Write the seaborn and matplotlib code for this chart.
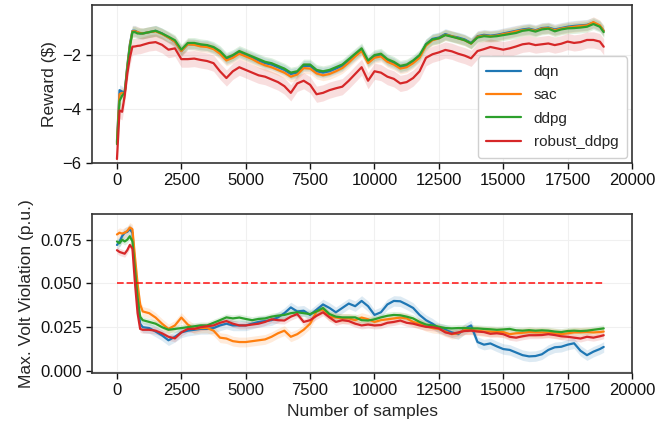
import numpy as np
import pandas as pd
import matplotlib
matplotlib.use("Agg")
import matplotlib.pyplot as plt
import seaborn as sns

# ---------------- data ----------------
samples = [0, 100, 200, 300, 400, 500, 600, 700, 800, 900, 1000] + list(range(1250, 18751, 250)) + [18900]
algos = ["dqn", "sac", "ddpg", "robust_ddpg"]

reward_dqn = [
    -5.2, -3.3, -3.35, -3.4, -2.4, -1.6, -1.1, -1.1, -1.15, -1.2, -1.2,
    -1.15, -1.1, -1.2, -1.35, -1.5, -1.85, -1.6, -1.6, -1.65, -1.65, -1.75,
    -1.9, -2.15, -2.05, -1.9, -2.0, -2.1, -2.2, -2.3, -2.35, -2.45, -2.55,
    -2.7, -2.65, -2.4, -2.4, -2.6, -2.65, -2.6, -2.5, -2.4, -2.2, -2.0,
    -1.8, -2.25, -2.05, -2.0, -2.2, -2.3, -2.45, -2.4, -2.25, -2.05, -1.6,
    -1.4, -1.35, -1.22, -1.3, -1.35, -1.42, -1.55, -1.3, -1.25, -1.28, -1.25,
    -1.2, -1.15, -1.1, -1.05, -1.02, -1.08, -1.0, -0.98, -1.05, -1.0, -0.95,
    -0.92, -0.9, -0.88, -0.8, -0.92, -1.1,
]
reward_sac = [
    -5.25, -3.45, -3.4, -3.45, -2.45, -1.65, -1.12, -1.12, -1.15, -1.18, -1.2,
    -1.15, -1.12, -1.22, -1.35, -1.5, -1.85, -1.6, -1.62, -1.68, -1.7, -1.78,
    -1.95, -2.2, -2.1, -1.95, -2.05, -2.15, -2.28, -2.38, -2.45, -2.55, -2.65,
    -2.8, -2.72, -2.48, -2.5, -2.68, -2.75, -2.7, -2.6, -2.48, -2.28, -2.05,
    -1.85, -2.3, -2.1, -2.05, -2.25, -2.35, -2.5, -2.45, -2.3, -2.1, -1.65,
    -1.45, -1.38, -1.25, -1.3, -1.38, -1.45, -1.58, -1.32, -1.28, -1.3, -1.28,
    -1.22, -1.18, -1.12, -1.08, -1.05, -1.1, -1.02, -1.0, -1.08, -1.02, -0.98,
    -0.95, -0.92, -0.9, -0.78, -0.9, -1.1,
]
reward_ddpg = [
    -5.3, -3.7, -3.5, -3.4, -2.5, -1.7, -1.15, -1.15, -1.2, -1.2, -1.2,
    -1.15, -1.1, -1.2, -1.32, -1.45, -1.8, -1.55, -1.55, -1.6, -1.63, -1.7,
    -1.85, -2.1, -2.0, -1.85, -1.95, -2.05, -2.15, -2.25, -2.3, -2.4, -2.5,
    -2.65, -2.6, -2.35, -2.35, -2.55, -2.6, -2.55, -2.45, -2.35, -2.15, -1.95,
    -1.75, -2.2, -2.0, -1.95, -2.15, -2.25, -2.4, -2.35, -2.2, -2.0, -1.6,
    -1.42, -1.38, -1.26, -1.32, -1.38, -1.45, -1.57, -1.35, -1.3, -1.32, -1.3,
    -1.26, -1.22, -1.18, -1.1, -1.07, -1.13, -1.05, -1.02, -1.12, -1.05, -1.01,
    -1.0, -0.98, -0.95, -0.85, -0.95, -1.15,
]
reward_robust = [
    -5.85, -4.05, -4.1, -3.5, -2.7, -2.1, -1.69, -1.68, -1.66, -1.65, -1.62,
    -1.55, -1.52, -1.62, -1.8, -1.75, -2.15, -2.15, -2.13, -2.18, -2.22, -2.3,
    -2.6, -2.85, -2.6, -2.45, -2.55, -2.65, -2.75, -2.8, -2.9, -3.0, -3.15,
    -3.4, -3.05, -2.95, -3.1, -3.45, -3.4, -3.3, -3.23, -3.17, -2.95, -2.7,
    -2.45, -2.95, -2.6, -2.65, -2.8, -2.88, -3.05, -3.0, -2.85, -2.6, -2.1,
    -1.97, -1.9, -1.81, -1.86, -1.95, -2.02, -2.12, -1.85, -1.78, -1.7, -1.75,
    -1.8, -1.75, -1.68, -1.6, -1.57, -1.63, -1.6, -1.57, -1.63, -1.58, -1.5,
    -1.55, -1.52, -1.44, -1.44, -1.5, -1.69,
]
reward_band = [0.2, 0.2, 0.2, 0.3]

volt_dqn = [
    0.072, 0.074, 0.077, 0.079, 0.0795, 0.081, 0.079, 0.06, 0.04, 0.027, 0.025,
    0.0245, 0.0225, 0.0203, 0.0175, 0.0195, 0.022, 0.023, 0.0235, 0.024, 0.024, 0.0245,
    0.026, 0.027, 0.026, 0.026, 0.026, 0.027, 0.028, 0.0285, 0.029, 0.0306, 0.033,
    0.0363, 0.034, 0.0344, 0.032, 0.035, 0.038, 0.036, 0.0335, 0.036, 0.0385, 0.037,
    0.040, 0.037, 0.032, 0.0335, 0.038, 0.040, 0.0398, 0.038, 0.036, 0.032, 0.029,
    0.027, 0.0245, 0.0235, 0.022, 0.021, 0.024, 0.026, 0.0165, 0.015, 0.0157, 0.014,
    0.0125, 0.012, 0.0105, 0.009, 0.0083, 0.0085, 0.0095, 0.012, 0.0135, 0.0138, 0.015,
    0.0158, 0.0115, 0.009, 0.011, 0.0125, 0.0137,
]
volt_sac = [
    0.078, 0.079, 0.0785, 0.079, 0.080, 0.082, 0.081, 0.065, 0.05, 0.038, 0.034,
    0.033, 0.0305, 0.027, 0.024, 0.026, 0.0305, 0.0265, 0.024, 0.0245, 0.0245, 0.023,
    0.019, 0.0185, 0.017, 0.0165, 0.0165, 0.017, 0.0175, 0.018, 0.0195, 0.0215, 0.023,
    0.0195, 0.021, 0.0235, 0.027, 0.034, 0.035, 0.031, 0.0305, 0.030, 0.030, 0.029,
    0.0305, 0.0295, 0.028, 0.029, 0.0295, 0.030, 0.0305, 0.030, 0.028, 0.027, 0.0255,
    0.0245, 0.024, 0.0225, 0.021, 0.0215, 0.0235, 0.0235, 0.023, 0.0225, 0.0225, 0.0222,
    0.0222, 0.021, 0.0215, 0.0218, 0.0222, 0.022, 0.022, 0.0218, 0.0215, 0.021, 0.0215,
    0.022, 0.022, 0.0222, 0.022, 0.0222, 0.0225,
]
volt_ddpg = [
    0.074, 0.073, 0.075, 0.074, 0.075, 0.077, 0.074, 0.058, 0.042, 0.031, 0.029,
    0.028, 0.027, 0.025, 0.0235, 0.024, 0.0245, 0.025, 0.0255, 0.026, 0.026, 0.0275,
    0.029, 0.0306, 0.030, 0.0305, 0.0297, 0.029, 0.0297, 0.030, 0.031, 0.0316, 0.032,
    0.033, 0.0335, 0.033, 0.0325, 0.034, 0.036, 0.0325, 0.031, 0.0306, 0.0306, 0.0306,
    0.029, 0.0288, 0.0295, 0.0306, 0.0315, 0.032, 0.0318, 0.031, 0.030, 0.028, 0.0265,
    0.026, 0.0252, 0.0245, 0.0243, 0.0245, 0.0245, 0.0243, 0.0243, 0.024, 0.0238, 0.0235,
    0.0237, 0.024, 0.0232, 0.023, 0.0233, 0.023, 0.0232, 0.023, 0.0225, 0.0222, 0.0228,
    0.023, 0.0228, 0.023, 0.0235, 0.024, 0.0243,
]
volt_robust = [
    0.069, 0.068, 0.0675, 0.067, 0.069, 0.072, 0.07, 0.05, 0.033, 0.024, 0.0235,
    0.0235, 0.023, 0.0215, 0.0195, 0.0186, 0.022, 0.024, 0.024, 0.025, 0.0255, 0.026,
    0.0275, 0.0285, 0.027, 0.026, 0.026, 0.0265, 0.027, 0.028, 0.0295, 0.029, 0.0288,
    0.031, 0.0325, 0.028, 0.029, 0.0315, 0.0335, 0.0306, 0.028, 0.029, 0.0285, 0.027,
    0.026, 0.0265, 0.026, 0.0262, 0.0275, 0.028, 0.0288, 0.0275, 0.027, 0.026, 0.0252,
    0.025, 0.0243, 0.022, 0.0212, 0.022, 0.0228, 0.023, 0.0225, 0.0222, 0.0212, 0.0215,
    0.021, 0.0195, 0.019, 0.0198, 0.0204, 0.0204, 0.0205, 0.021, 0.0205, 0.0198, 0.0195,
    0.019, 0.0185, 0.0195, 0.019, 0.0198, 0.0204,
]
volt_band = [0.003, 0.0028, 0.002, 0.002]
volt_limit = 0.05

# ---------------- plotting ----------------
sns.set_style("ticks")
plt.rcParams["font.family"] = ["Liberation Sans", "DejaVu Sans"]
plt.rcParams["axes.unicode_minus"] = True

colors = sns.color_palette("tab10", 4)
fig = plt.figure(figsize=(6.57, 4.28), dpi=100)
ax1 = fig.add_axes([0.140, 0.619, 0.822, 0.369])
ax2 = fig.add_axes([0.140, 0.1285, 0.822, 0.3715])

reward_series = [reward_dqn, reward_sac, reward_ddpg, reward_robust]
volt_series = [volt_dqn, volt_sac, volt_ddpg, volt_robust]

for ax, series, bands in [(ax1, reward_series, reward_band), (ax2, volt_series, volt_band)]:
    for name, vals, b, c in zip(algos, series, bands, colors):
        df = pd.DataFrame({"samples": samples, "value": vals})
        sns.lineplot(data=df, x="samples", y="value", ax=ax, color=c, lw=1.6, label=name)
        v = np.asarray(vals)
        ax.fill_between(samples, v - b, v + b, color=c, alpha=0.15, lw=0)

ax2.plot([samples[0], samples[-1]], [volt_limit, volt_limit], ls="--", color="red", alpha=0.8, lw=1.3)

for ax in (ax1, ax2):
    ax.set_xlim(-970, 20000)
    ax.set_xticks([0, 2500, 5000, 7500, 10000, 12500, 15000, 17500, 20000])
    ax.grid(True, color="#f0f0f0", lw=0.8)
    ax.set_axisbelow(True)
    ax.tick_params(labelsize=12, length=4, width=1, colors="#111111")
    for s in ax.spines.values():
        s.set_color("#333333")
        s.set_linewidth(1.2)

ax1.set_ylim(-6, -0.15)
ax1.set_yticks([-6, -4, -2])
ax1.set_xlabel("")
ax1.set_ylabel("Reward ($)", fontsize=12.5)
ax1.legend(loc="lower right", fontsize=11, frameon=True, framealpha=1, edgecolor="#d0d0d0",
           handlelength=2.3, borderpad=0.55, labelspacing=0.62, borderaxespad=0.35)

ax2.set_ylim(-0.0012, 0.0897)
ax2.set_yticks([0.0, 0.025, 0.05, 0.075])
ax2.set_yticklabels(["0.000", "0.025", "0.050", "0.075"])
ax2.set_xlabel("Number of samples", fontsize=12.5)
ax2.set_ylabel("Max. Volt Violation (p.u.)", fontsize=12.5)
if ax2.get_legend() is not None:
    ax2.get_legend().remove()

fig.savefig("out.png", dpi=100)
